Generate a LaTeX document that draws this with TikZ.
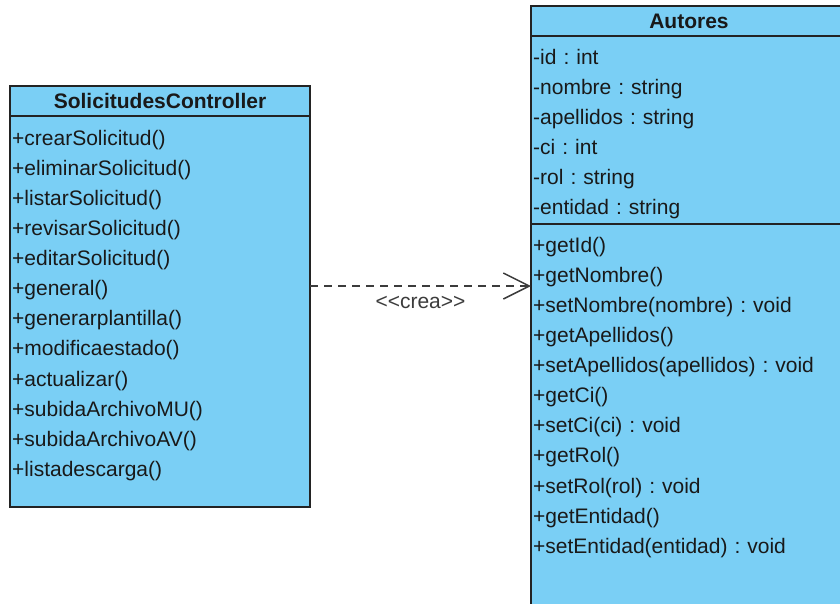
\documentclass[tikz,border=0pt]{standalone}
\usepackage{fontspec}
\setmainfont{Liberation Sans}
\usetikzlibrary{positioning,arrows.meta}
\definecolor{classfill}{RGB}{122,207,245}
\definecolor{classline}{RGB}{35,35,35}
\definecolor{classtext}{RGB}{25,25,25}
\definecolor{depgray}{RGB}{60,60,60}
\frenchspacing

\begin{document}
\begin{tikzpicture}[
		x=1pt, y=-1pt,
		% 类名那一格,粗体居中
		headbox/.style={rectangle, draw=classline, fill=classfill, line width=1.5pt, inner sep=0pt, outer sep=0pt, minimum height=30pt, text=classtext, font=\fontsize{21}{25}\selectfont\bfseries, text height=15pt, text depth=0pt},
		% 属性和方法那一格
		bodybox/.style={rectangle, draw=classline, fill=classfill, line width=1.5pt, inner sep=0pt, outer sep=0pt},
		% 每一行文字,宽度固定,左对齐
		row/.style={inner sep=0pt, text width=#1, align=left, text height=16pt, text depth=6pt, text=classtext, font=\fontsize{21}{25}\selectfont},
		row/.default=296pt,
		% 虚线依赖箭头
		dependline/.style={draw=depgray, line width=1.5pt, dash pattern=on 8pt off 6pt, -{Straight Barb[length=26pt, width=26pt]}},
		crealabel/.style={anchor=base, yshift=-22pt, inner sep=0pt, text=depgray, font=\fontsize{21}{25}\selectfont},
		node distance=30.1pt
	]
	\useasboundingbox (0,0) rectangle (840,603);
	\clip (0,0) rectangle (840,603);

	%SolicitudesController
	\node[headbox, minimum width=300pt]                         (ctrlhead)  at (160,101)                                  {SolicitudesController};
	\node[bodybox, minimum width=300pt, minimum height=391pt]   (ctrlbody)  [below=0pt of ctrlhead]                       {};
	\node[row]      (c1)        [below right=13pt and 2pt of ctrlbody.north west]   {+crearSolicitud()};
	\node[row]      (c2)        [below of=c1]                                       {+eliminarSolicitud()};
	\node[row]      (c3)        [below of=c2]                                       {+listarSolicitud()};
	\node[row]      (c4)        [below of=c3]                                       {+revisarSolicitud()};
	\node[row]      (c5)        [below of=c4]                                       {+editarSolicitud()};
	\node[row]      (c6)        [below of=c5]                                       {+general()};
	\node[row]      (c7)        [below of=c6]                                       {+generarplantilla()};
	\node[row]      (c8)        [below of=c7]                                       {+modificaestado()};
	\node[row]      (c9)        [below of=c8]                                       {+actualizar()};
	\node[row]      (c10)       [below of=c9]                                       {+subidaArchivoMU()};
	\node[row]      (c11)       [below of=c10]                                      {+subidaArchivoAV()};
	\node[row]      (c12)       [below of=c11]                                      {+listadescarga()};

	%Autores
	\node[headbox, minimum width=316pt]                         (authead)   at (689,21)                                   {Autores};
	\node[bodybox, minimum width=316pt, minimum height=188pt]   (autattr)   [below=0pt of authead]                        {};
	\node[bodybox, minimum width=316pt, minimum height=400pt]   (autmeth)   [below=0pt of autattr]                        {};
	\node[row=312pt] (a1)       [below right=12pt and 2pt of autattr.north west]    {-id : int};
	\node[row=312pt] (a2)       [below of=a1]                                       {-nombre : string};
	\node[row=312pt] (a3)       [below of=a2]                                       {-apellidos : string};
	\node[row=312pt] (a4)       [below of=a3]                                       {-ci : int};
	\node[row=312pt] (a5)       [below of=a4]                                       {-rol : string};
	\node[row=312pt] (a6)       [below of=a5]                                       {-entidad : string};
	\node[row=312pt] (m1)       [below right=12pt and 2pt of autmeth.north west]    {+getId()};
	\node[row=312pt] (m2)       [below of=m1]                                       {+getNombre()};
	\node[row=312pt] (m3)       [below of=m2]                                       {+setNombre(nombre) : void};
	\node[row=312pt] (m4)       [below of=m3]                                       {+getApellidos()};
	\node[row=312pt] (m5)       [below of=m4]                                       {+setApellidos(apellidos) : void};
	\node[row=312pt] (m6)       [below of=m5]                                       {+getCi()};
	\node[row=312pt] (m7)       [below of=m6]                                       {+setCi(ci) : void};
	\node[row=312pt] (m8)       [below of=m7]                                       {+getRol()};
	\node[row=312pt] (m9)       [below of=m8]                                       {+setRol(rol) : void};
	\node[row=312pt] (m10)      [below of=m9]                                       {+getEntidad()};
	\node[row=312pt] (m11)      [below of=m10]                                      {+setEntidad(entidad) : void};

	%Lines
	\coordinate (crea) at (420,286);
	\draw[dependline] (ctrlbody.east |- crea) -- node[crealabel] {<\kern0pt<crea>\kern0pt>} (autmeth.west |- crea);
\end{tikzpicture}
\end{document}
